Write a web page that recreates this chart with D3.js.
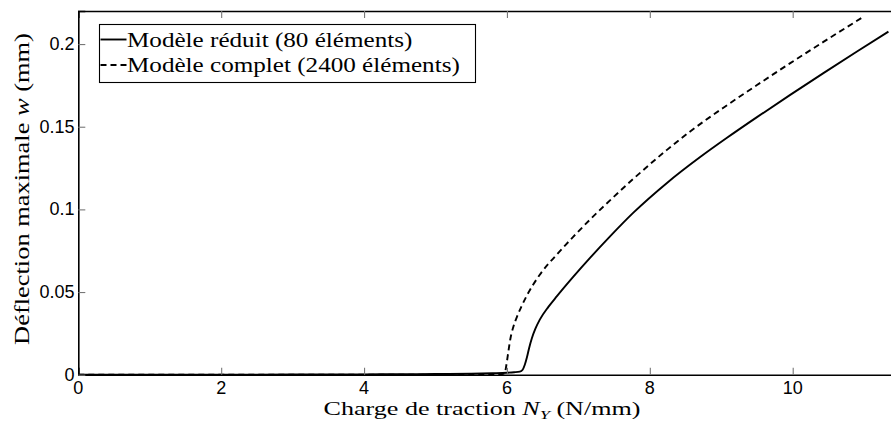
<!DOCTYPE html>
<html><head><meta charset="utf-8">
<script src="https://cdn.jsdelivr.net/npm/d3@7"></script>
<style>body{margin:0;background:#fff}svg{display:block}</style>
</head><body>
<svg id="c" width="891" height="424"></svg>
<script>
// ---- data ----
const xTicks = [0, 2, 4, 6, 8, 10];
const yTicks = [0, 0.05, 0.1, 0.15, 0.2];
const yTickLabels = ["0", "0.05", "0.1", "0.15", "0.2"];
const seriesNames = ["Modèle réduit (80 éléments)", "Modèle complet (2400 éléments)"];
const reducedX = [0,1,2,3,4,4.5,5,5.5,5.8,6.0,6.1,6.18,6.22,6.25,6.28,6.31,6.35,6.40,6.46,6.58,6.7,6.93,7.16,7.44,7.77,8.24,8.7,9.08,9.5,9.96,10.43,10.9,11.34];
const reducedY = [0,0,0.00005,0.0001,0.0002,0.0003,0.0004,0.0006,0.0009,0.0012,0.0015,0.0019,0.003,0.006,0.0105,0.016,0.0222,0.028,0.0333,0.041,0.0475,0.0593,0.0705,0.0835,0.098,0.116,0.1315,0.1433,0.1558,0.1691,0.1824,0.1955,0.2075];
const completeX = [0,2,4,5,5.5,5.9,5.97,5.985,6.0,6.02,6.045,6.09,6.14,6.2,6.28,6.46,6.7,6.93,7.16,7.4,7.77,8.24,8.56,9.03,9.5,9.96,10.43,10.99];
const completeY = [0,0,0,0,0,0.0002,0.0008,0.004,0.008,0.014,0.021,0.029,0.035,0.041,0.048,0.0605,0.0728,0.0835,0.0937,0.1037,0.1185,0.136,0.147,0.1615,0.1752,0.1883,0.2013,0.2165];

// ---- layout ----
const svg = d3.select("#c");
const x0 = 78.3, pxPerUnit = 71.44;
const xMax = 11.4;
const x = d3.scaleLinear().domain([0, xMax]).range([x0, x0 + xMax * pxPerUnit]);
const y = d3.scaleLinear().domain([0, 0.22]).range([374.7, 11]);
const serif = "'Liberation Serif', 'Times New Roman', serif";
const sans = "'Liberation Sans', Arial, sans-serif";

const line = d3.line().x(d => x(d[0])).y(d => y(d[1])).curve(d3.curveMonotoneX);
const reduced = reducedX.map((v, i) => [v, reducedY[i]]);
const complete = completeX.map((v, i) => [v, completeY[i]]);

svg.append("path").attr("d", line(complete)).attr("fill", "none")
  .attr("stroke", "#000").attr("stroke-width", 1.9).attr("stroke-dasharray", "6,4");
svg.append("path").attr("d", line(reduced)).attr("fill", "none")
  .attr("stroke", "#000").attr("stroke-width", 1.9);

// axes (inward ticks)
const gx = svg.append("g").attr("transform", `translate(0,${y(0)})`)
  .call(d3.axisTop(x).tickValues(xTicks).tickSize(7).tickFormat(""));
const gxt = svg.append("g").attr("transform", `translate(0,${y(0.22)})`)
  .call(d3.axisBottom(x).tickValues(xTicks).tickSize(7).tickFormat(""));
const gy = svg.append("g").attr("transform", `translate(${x0},0)`)
  .call(d3.axisRight(y).tickValues(yTicks).tickSize(7).tickFormat(""));
[gx, gxt, gy].forEach(g => {
  g.select(".domain").attr("stroke", "#000").attr("stroke-width", 1.6);
  g.selectAll(".tick line").attr("stroke", "#777").attr("stroke-width", 1.1);
});

// tick labels
svg.append("g").selectAll("text").data(xTicks).join("text")
  .attr("x", d => x(d)).attr("y", 394).attr("text-anchor", "middle")
  .style("font-family", sans).style("font-size", "18px").text(d => d);
svg.append("g").selectAll("text").data(yTicks).join("text")
  .attr("x", 74.5).attr("y", d => y(d)).attr("text-anchor", "end")
  .attr("dominant-baseline", "central")
  .style("font-family", sans).style("font-size", "18px").text((d, i) => yTickLabels[i]);

// horizontally stretch a text (kept as text) to a target width
function stretch(g, t, target, baseTransform) {
  const w = t.node().getComputedTextLength();
  g.attr("transform", baseTransform + ` scale(${(target / w).toFixed(4)},1)`);
}

// x label
const xg = svg.append("g");
const xl = xg.append("text").attr("x", 0).attr("y", 0).attr("text-anchor", "middle")
  .style("font-family", serif).style("font-size", "18.5px");
xl.append("tspan").text("Charge de traction ");
xl.append("tspan").style("font-style", "italic").text("N");
xl.append("tspan").attr("dy", 4).style("font-style", "italic").style("font-size", "0.7em").text("Y");
xl.append("tspan").attr("dy", -4).text(" (N/mm)");
stretch(xg, xl, 317, "translate(482,415)");

// y label
const yg = svg.append("g");
const yl = yg.append("text").attr("text-anchor", "middle")
  .style("font-family", serif).style("font-size", "20px");
yl.append("tspan").text("Déflection maximale ");
yl.append("tspan").style("font-style", "italic").text("w");
yl.append("tspan").text(" (mm)");
stretch(yg, yl, 312, "translate(29,189) rotate(-90)");

// legend
const lg = svg.append("g");
lg.append("rect").attr("x", 99.5).attr("y", 24.5).attr("width", 376).attr("height", 58)
  .attr("fill", "#fff").attr("stroke", "#000").attr("stroke-width", 1.1);
lg.append("line").attr("x1", 100.5).attr("x2", 126.5).attr("y1", 39.5).attr("y2", 39.5)
  .attr("stroke", "#000").attr("stroke-width", 1.9);
lg.append("line").attr("x1", 100.5).attr("x2", 126.5).attr("y1", 65).attr("y2", 65)
  .attr("stroke", "#000").attr("stroke-width", 1.9).attr("stroke-dasharray", "6,4");
const g1 = lg.append("g"), g2 = lg.append("g");
const t1 = g1.append("text").attr("x", 0).attr("y", 0)
  .style("font-family", serif).style("font-size", "20.5px").text(seriesNames[0]);
const t2 = g2.append("text").attr("x", 0).attr("y", 0)
  .style("font-family", serif).style("font-size", "20.5px").text(seriesNames[1]);
const sx = 333 / t2.node().getComputedTextLength();
g1.attr("transform", `translate(127,46.7) scale(${sx.toFixed(4)},1)`);
g2.attr("transform", `translate(127,71.7) scale(${sx.toFixed(4)},1)`);
</script>
</body></html>
